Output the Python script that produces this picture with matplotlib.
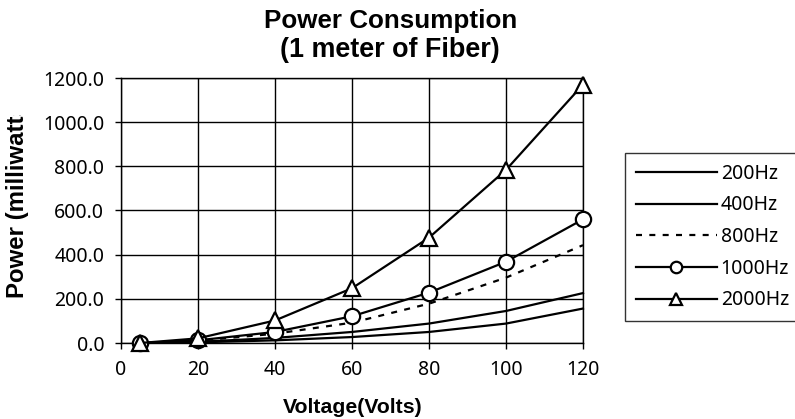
import matplotlib
matplotlib.use("Agg")
import matplotlib.pyplot as plt
from matplotlib.transforms import Bbox, TransformedBbox, IdentityTransform

voltage = [5, 20, 40, 60, 80, 100, 120]
p200 = [0, 3, 12, 27, 50, 88, 156]
p400 = [0, 5, 23, 50, 88, 145, 226]
p800 = [0, 10, 42, 92, 178, 296, 443]
p1000 = [0, 12, 50, 121, 228, 368, 560]
p2000 = [0, 21, 102, 248, 477, 784, 1170]
series_labels = ["200Hz", "400Hz", "800Hz", "1000Hz", "2000Hz"]
x_ticks = [0, 20, 40, 60, 80, 100, 120]
y_ticks = [0, 200, 400, 600, 800, 1000, 1200]
title1 = "Power Consumption"
title2 = "(1 meter of Fiber)"
x_label = "Voltage(Volts)"
y_label = "Power (milliwatts)"

W, H = 795, 419
fig = plt.figure(figsize=(W / 100, H / 100), dpi=100)
ax = fig.add_axes([121 / W, 1 - 343 / H, (583 - 121) / W, (343 - 78) / H])
renderer = fig.canvas.get_renderer()

tick_font = "Noto Sans"
bold_font = "Liberation Sans"

lw = 1.6
l1, = ax.plot(voltage, p200, color="black", lw=lw, label=series_labels[0], zorder=3)
l2, = ax.plot(voltage, p400, color="black", lw=lw, label=series_labels[1], zorder=3)
l3, = ax.plot(voltage, p800, color="black", lw=lw, ls=(0, (2.7, 3.3)), label=series_labels[2], zorder=3)
l4, = ax.plot(voltage, p1000, color="black", lw=lw, marker="o", ms=11, mfc="white",
              mec="black", mew=1.6, label=series_labels[3], zorder=4)
l5, = ax.plot(voltage, p2000, color="black", lw=lw, marker="^", ms=12, mfc="white",
              mec="black", mew=1.6, label=series_labels[4], zorder=5)
for l in [l1, l2, l3, l4, l5]:
    l.set_clip_on(False)

ax.set_xlim(0, 120)
ax.set_ylim(0, 1200)
ax.set_xticks(x_ticks)
ax.set_yticks(y_ticks)
ax.set_xticklabels([str(v) for v in x_ticks], fontsize=14, family=tick_font)
ax.set_yticklabels([f"{v:.1f}" for v in y_ticks], fontsize=14, family=tick_font)
ax.tick_params(axis="both", direction="out", length=4, width=1, color="black")
ax.tick_params(axis="y", pad=8)
ax.tick_params(axis="x", pad=8)
ax.grid(True, color="black", lw=1)
ax.set_axisbelow(True)
for s in ax.spines.values():
    s.set_color("black")
    s.set_linewidth(1)


def fit(t, target_px, horizontal=True):
    ext = t.get_window_extent(renderer)
    cur = ext.width if horizontal else ext.height
    t.set_fontsize(t.get_fontsize() * target_px / cur)


t1 = fig.text(391 / W, 1 - 28 / H, title1, ha="center", va="baseline",
              fontsize=18, fontweight="bold", family=bold_font)
fit(t1, 253)
t2 = fig.text(390 / W, 1 - 57 / H, title2, ha="center", va="baseline",
              fontsize=18, fontweight="bold", family=bold_font)
fit(t2, 220)
tx = fig.text(353 / W, 1 - 413 / H, x_label, ha="center", va="baseline",
              fontsize=14, fontweight="bold", family=bold_font)
fit(tx, 140)

# y label: measure visible part, then draw full text clipped at top
probe = fig.text(0, 0, y_label[:16], rotation=90, fontsize=14, fontweight="bold", family=bold_font)
fit(probe, 183, horizontal=False)
ysize = probe.get_fontsize()
probe.remove()
yl = fig.text(24 / W, 1 - 298 / H, y_label, rotation=90, rotation_mode="anchor",
              ha="left", va="baseline", fontsize=ysize, fontweight="bold", family=bold_font)
yl.set_clip_box(TransformedBbox(Bbox.from_extents(0, 0, 60, H - 115), IdentityTransform()))
yl.set_clip_on(True)

leg = fig.legend(handles=[l1, l2, l3, l4, l5], loc="upper left",
                 bbox_to_anchor=(625 / W, 1 - 153 / H), bbox_transform=fig.transFigure,
                 frameon=True, fancybox=False, handlelength=4.17, handletextpad=0.2,
                 labelspacing=0.6, borderpad=0.55, borderaxespad=0, markerscale=0.75,
                 prop={"family": tick_font, "size": 14})
leg.get_frame().set_edgecolor("black")
leg.get_frame().set_linewidth(1)

fig.savefig("out.png", dpi=100)
